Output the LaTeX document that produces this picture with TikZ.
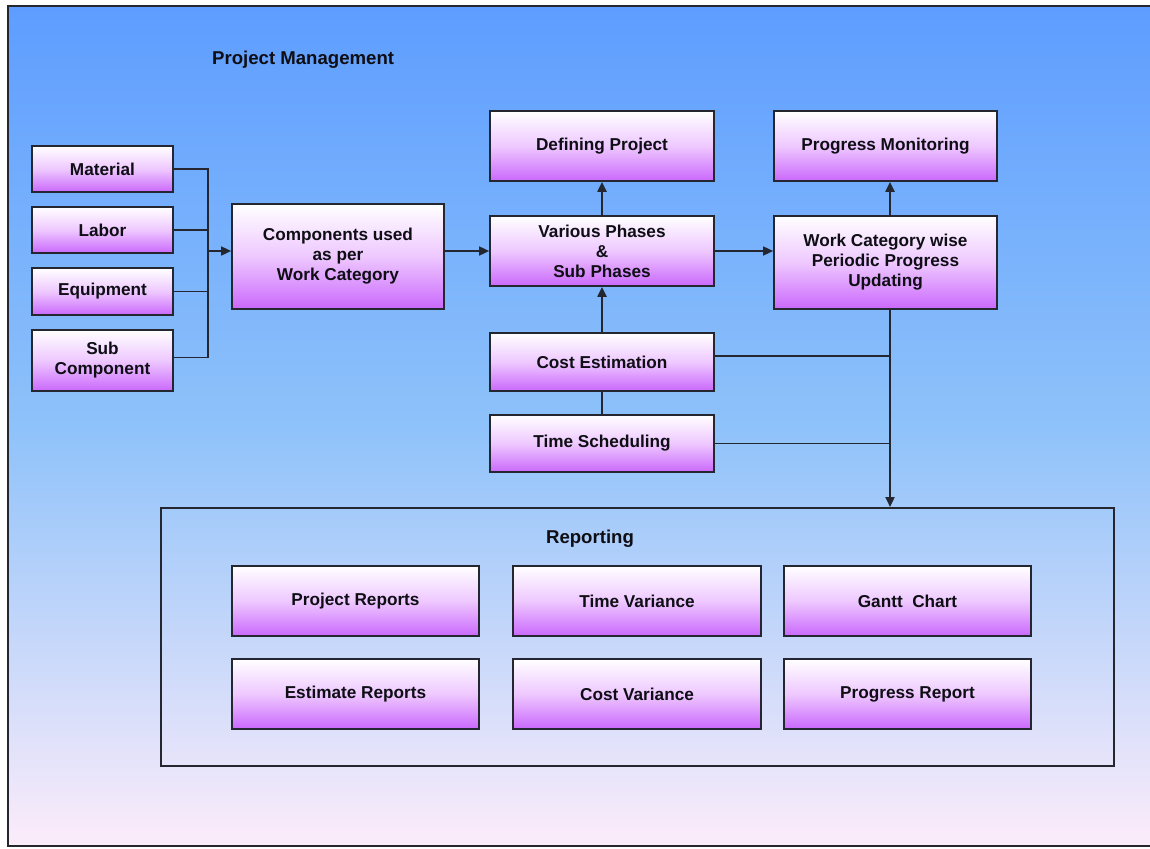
\documentclass[tikz,border=0pt]{standalone}
\usepackage{fontspec}
\setmainfont{Liberation Sans}
\usetikzlibrary{arrows.meta,calc}

\definecolor{skytop}{RGB}{94,157,255}
\definecolor{skymid}{RGB}{142,194,250}
\definecolor{skybottom}{RGB}{252,236,250}
\definecolor{boxviolet}{RGB}{202,104,252}
\definecolor{boxmid}{RGB}{238,200,255}
\definecolor{edge}{RGB}{36,38,48}
\definecolor{ink}{RGB}{14,14,20}

\tikzset{
  pbox/.style={draw=edge, line width=1.7pt, top color=white, bottom color=boxviolet,
    middle color=boxmid, text=ink, align=center, inner sep=2pt,
    font=\fontsize{17.2}{20}\selectfont\bfseries},
  link/.style={draw=edge, line width=1.6pt},
  linkarrow/.style={link, -{Triangle[length=10pt,width=9pt]}},
  heading/.style={text=ink, font=\fontsize{18.6}{20}\selectfont\bfseries, inner sep=0pt}
}

\begin{document}
\begin{tikzpicture}[x=1pt,y=-1pt]
\useasboundingbox (0,0) rectangle (1150,848);

% page background and frame
\fill[white] (0,0) rectangle (1150,848);
\shade[top color=skytop, bottom color=skybottom, middle color=skymid] (8,6) rectangle (1152,846);
\draw[edge, line width=2.5pt] (1152,6) -- (8,6) -- (8,846) -- (1152,846);

\node[heading, anchor=west] (title) at (212,60) {Project Management};

% resources feeding the components
\node[pbox, minimum width=141, minimum height=46] (mat) at (102.5,169) {Material};
\node[pbox, minimum width=141, minimum height=46] (lab) at (102.5,230) {Labor};
\node[pbox, minimum width=141, minimum height=47] (equ) at (102.5,291.5) {Equipment};
\node[pbox, minimum width=141, minimum height=61] (sub) at (102.5,360.5) {Sub\\Component};

\node[pbox, minimum width=212, minimum height=105] (comp) at (338,256.5) {Components used\\as per\\Work Category};

% project definition column
\node[pbox, minimum width=224, minimum height=70] (dp) at (602,146) {Defining Project};
\node[pbox, minimum width=224, minimum height=70] (vp) at (602,251) {Various Phases\\\&\\Sub Phases};
\node[pbox, minimum width=224, minimum height=58] (ce) at (602,362) {Cost Estimation};
\node[pbox, minimum width=224, minimum height=57] (ts) at (602,443.5) {Time Scheduling};

% progress column
\node[pbox, minimum width=223, minimum height=70] (pm) at (885.5,146) {Progress Monitoring};
\node[pbox, minimum width=223, minimum height=93] (wc) at (885.5,262.5) {Work Category wise\\Periodic Progress\\Updating};

% reporting group
\node[draw=edge, line width=2pt, minimum width=953, minimum height=258, inner sep=0pt] (rep) at (637.5,637) {};
\node[heading] (reptitle) at (590,539) {Reporting};
\node[pbox, minimum width=247, minimum height=70] (pr) at (355.5,601) {Project Reports};
\node[pbox, minimum width=248, minimum height=70] (tv) at (637,601) {Time Variance};
\node[pbox, minimum width=247, minimum height=70] (gc) at (907.5,601) {Gantt\ \ Chart};
\node[pbox, minimum width=247, minimum height=70] (er) at (355.5,694) {Estimate Reports};
\node[pbox, minimum width=248, minimum height=70] (cv) at (637,694) {Cost Variance};
\node[pbox, minimum width=247, minimum height=70] (prg) at (907.5,694) {Progress Report};

% junction points
\coordinate (busL) at (208,251);
\coordinate (busR) at (890,251);

% resource bus
\draw[link] (mat.east) -| (busL);
\draw[link, line width=2.2pt] (lab.east) -| (busL);
\draw[link] (equ.east) -| (busL);
\draw[link] ([yshift=3pt]sub.east) -| (busL);
\draw[linkarrow] (busL) -- (comp.west |- busL);

% main flow
\draw[linkarrow] (comp.east |- busL) -- (vp.west);
\draw[linkarrow] (vp.east) -- (wc.west |- vp.east);
\draw[linkarrow, line width=2pt] (vp.north) -- (dp.south);
\draw[linkarrow, line width=2pt] (ce.north) -- (vp.south);
\draw[link, line width=2pt] (ts.north) -- (ce.south);
\draw[linkarrow, line width=2pt] (wc.north -| busR) -- (pm.south -| busR);

% into reporting
\draw[linkarrow, line width=2.2pt] (wc.south -| busR) -- (rep.north -| busR);
\draw[link] ([yshift=6pt]ce.east) -- ([yshift=6pt]ce.east -| busR);
\draw[link] (ts.east) -- (ts.east -| busR);
\end{tikzpicture}
\end{document}
